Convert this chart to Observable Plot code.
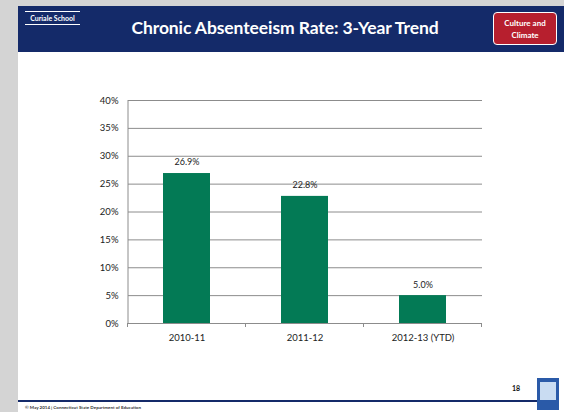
<!DOCTYPE html>
<html>
<head>
<meta charset="utf-8">
<script src="https://cdn.jsdelivr.net/npm/d3@7"></script>
<script src="https://cdn.jsdelivr.net/npm/@observablehq/plot@0.6"></script>
<style>
  html, body { margin: 0; padding: 0; width: 564px; height: 412px; overflow: hidden; background: #fff; font-family: Lato, "Open Sans", sans-serif; }
  #page { position: relative; width: 564px; height: 412px; }
  #leftstrip { position: absolute; left: 0; top: 0; width: 18px; height: 412px; background: #d4d4d4; }
  #topstrip { position: absolute; left: 0; top: 0; width: 564px; height: 6px; background: #d4d4d4; }
  #header { position: absolute; left: 18px; top: 6px; width: 546px; height: 46px; background: #142a69; }
  #school { position: absolute; left: 25px; top: 11px; width: 55px; border-top: 1px solid #fff; border-bottom: 1px solid #fff; color: #fff; font-size: 7px; font-weight: bold; line-height: 12px; text-align: center; }
  #title { position: absolute; left: 0px; top: 17px; width: 570px; text-align: center; color: #fff; font-size: 17.5px; font-weight: bold; letter-spacing: -0.1px; }
  #badge { position: absolute; left: 493px; top: 12px; width: 62px; height: 31px; background: #b71f2e; border: 1px solid #fff; border-radius: 4px; color: #fff; font-size: 8px; font-weight: bold; text-align: center; line-height: 12px; display: flex; align-items: center; justify-content: center; }
  #chart { position: absolute; left: 0; top: 60px; }
  #footline { position: absolute; left: 18px; top: 400px; width: 520px; height: 2px; background: #142a69; }
  #pagenum { position: absolute; left: 512px; top: 384px; font-size: 7px; font-weight: bold; color: #111; }
  #logo { position: absolute; left: 537px; top: 378px; width: 22px; height: 32px; background: #2a5aa8; }
  #logo div { position: absolute; left: 3px; top: 4px; width: 16px; height: 18px; background: #c9dcf2; }
  #foot { position: absolute; left: 25px; top: 405px; font-size: 4.5px; font-weight: bold; color: #333; white-space: nowrap; }
</style>
</head>
<body>
<div id="page">
  <div id="leftstrip"></div>
  <div id="topstrip"></div>
  <div id="header"></div>
  <div id="school">Curiale School</div>
  <div id="title">Chronic Absenteeism Rate: 3-Year Trend</div>
  <div id="badge">Culture and<br>Climate</div>
  <div id="chart"></div>
  <div id="pagenum">18</div>
  <div id="footline"></div>
  <div id="logo"><div></div></div>
  <div id="foot">© May 2014 | Connecticut State Department of Education</div>
</div>
<script>
const categories = ["2010-11", "2011-12", "2012-13 (YTD)"];
const rates = [0.269, 0.228, 0.05];
const yTicks = [0, 0.05, 0.10, 0.15, 0.20, 0.25, 0.30, 0.35, 0.40];

const data = categories.map((c, i) => ({category: c, rate: rates[i]}));

function boundaryTicks(index, scales, values, dimensions) {
  const x = scales.x;
  const g = d3.create("svg:g").attr("stroke", "#8c8c8c").attr("stroke-width", 1);
  const step = x.step ? x.step() : (x(categories[1]) - x(categories[0]));
  const bw = x.bandwidth ? x.bandwidth() : 0;
  const gap = (step - bw) / 2;
  const yb = dimensions.height - dimensions.marginBottom;
  const xs = categories.map(c => x(c) - gap);
  xs.push(x(categories[categories.length - 1]) + bw + gap);
  for (const px of xs) {
    g.append("line").attr("x1", px).attr("x2", px).attr("y1", yb).attr("y2", yb + 4);
  }
  g.append("line").attr("x1", xs[0]).attr("x2", xs[xs.length - 1]).attr("y1", yb + 0.5).attr("y2", yb + 0.5);
  g.append("line").attr("x1", xs[0] + 0.5).attr("x2", xs[0] + 0.5).attr("y1", dimensions.marginTop).attr("y2", yb);
  return g.node();
}

const chart = Plot.plot({
  width: 564,
  height: 300,
  marginLeft: 128,
  marginRight: 82,
  marginTop: 40,
  marginBottom: 37,
  style: {fontFamily: "Lato, 'Open Sans', sans-serif", fontSize: "9px", color: "#222", background: "transparent"},
  x: {domain: categories, paddingInner: 0.6, paddingOuter: 0.3, label: null},
  y: {domain: [0, 0.4], label: null},
  marks: [
    Plot.gridY(yTicks, {stroke: "#8c8c8c", strokeOpacity: 1}),
    Plot.axisY(yTicks, {tickSize: 0, tickPadding: 10, tickFormat: d3.format(".0%"), fontSize: 9.5, label: null}),
    Plot.axisX({tickSize: 0, tickPadding: 11, fontSize: 9.5, label: null}),
    Plot.barY(data, {x: "category", y: "rate", fill: "#037a55"}),
    Plot.text(data, {x: "category", y: "rate", text: d => d3.format(".1%")(d.rate), dy: -11, fontSize: 9, fill: "#222"}),
    boundaryTicks
  ]
});
document.getElementById("chart").appendChild(chart);
</script>
</body>
</html>
